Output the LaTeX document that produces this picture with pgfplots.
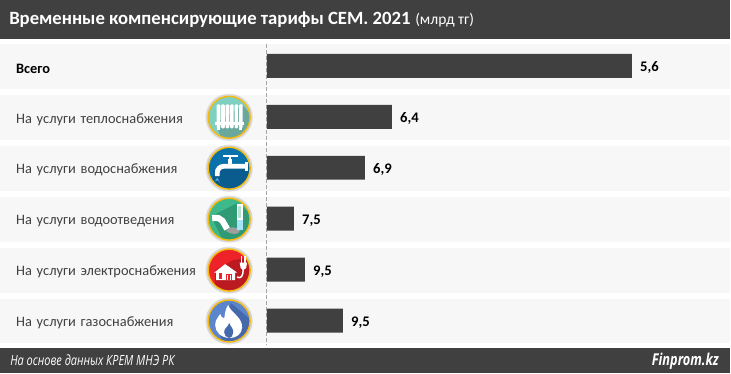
\documentclass[border=0pt]{standalone}
\usepackage{pgfplots}
\pgfplotsset{compat=1.18}
\usepackage{fontspec}
\setmainfont{Carlito}
\newfontfamily\footfont[FakeStretch=0.78]{Open Sans}
\definecolor{dk}{HTML}{404040}
\definecolor{rowbg}{HTML}{F7F7F7}
\definecolor{ring}{HTML}{F5B90F}
\definecolor{ic1}{HTML}{7FD0C0}\definecolor{sh1}{HTML}{6AA89E}
\definecolor{ic2}{HTML}{0A72AB}\definecolor{sh2}{HTML}{0B5C8E}\definecolor{drop}{HTML}{5DB8E8}
\definecolor{ic3}{HTML}{3DB98C}\definecolor{sh3}{HTML}{2F9A74}
\definecolor{ic4}{HTML}{EE2229}\definecolor{sh4}{HTML}{BB1A20}
\definecolor{ic5}{HTML}{5B86CC}\definecolor{sh5}{HTML}{4669AE}
\newcommand{\iconbase}[5]{%
  \begin{scope}[shift={(229.5,#1)}]
    \fill[black,opacity=0.12] (0,0) circle (23.6);
    \fill[#2] (0,0) circle (21);
    \begin{scope}
      \clip (0,0) circle (21);
      \fill[#3] #4;
    \end{scope}
    \draw[ring,line width=1.1pt] (0,0) circle (21);
    #5
  \end{scope}}
\begin{document}
\begin{tikzpicture}[x=0.75pt,y=-0.75pt]
\fill[white] (0,0) rectangle (731,374);
\fill[dk] (0,0) rectangle (731,39);
\foreach \t in {44,95,146,197,248,299}{\fill[rowbg] (0,\t) rectangle (731,\t+45);}
\fill[dk] (0,349) rectangle (731,374);
\draw[gray!70,line width=0.6pt,dash pattern=on 3pt off 1.6pt] (266.5,44) -- (266.5,345);
\node[anchor=west,text=white,inner sep=0pt] at (9,20) {\fontsize{14.05}{16}\selectfont\textbf{Временные компенсирующие тарифы СЕМ. 2021}\hspace{3.5pt}\fontsize{11.6}{16}\selectfont(млрд тг)};
\node[anchor=west,text=white,inner sep=0pt,font=\footfont\itshape\fontsize{10.55}{12}\selectfont] at (10,361) {На основе данных КРЕМ МНЭ РК};
\node[anchor=east,text=white,inner sep=0pt,font=\footfont\itshape\bfseries\fontsize{12.3}{14}\selectfont] at (720,362) {Finprom.kz};
\begin{axis}[
  at={(267,349)}, anchor=south west,
  scale only axis, width=348pt, height=232.5pt,
  xmin=0, xmax=464, ymin=39, ymax=349, y dir=reverse,
  xbar, bar width=18pt, bar shift=0pt,
  axis line style={draw=none},
  xtick=\empty,
  ytick={66,117,168,219,270,321},
  yticklabels={\textcolor{black}{\textbf{Всего}},На услуги теплоснабжения,На услуги водоснабжения,На услуги водоотведения,На услуги электроснабжения,На услуги газоснабжения},
  major tick length=0pt,
  yticklabel style={anchor=east,text width=188.25pt,align=left,inner sep=0pt,yshift=-1.9pt,text=dk,font=\fontsize{10.8}{12}\selectfont},
  clip=false,
  point meta=explicit symbolic,
  nodes near coords,
  every node near coord/.append style={anchor=west,inner sep=0pt,xshift=6pt,yshift=-1.5pt,text=black,font=\bfseries\fontsize{11}{12}\selectfont},
]
\addplot[fill=dk,draw=none] coordinates {
 (365,66) [{5,6}]
 (125,117) [{6,4}]
 (98,168) [{6,9}]
 (27,219) [{7,5}]
 (38,270) [{9,5}]
 (76,321) [{9,5}]
};
\end{axis}
% radiator
\iconbase{117.5}{ic1}{sh1}{(-14,6)--(14,-12)--(30,8)--(30,30)--(-4,30)--cycle}{%
  \foreach \a in {-12.5,-8,-3.5,1,5.5,10}{\fill[white,rounded corners=0.8pt] (\a,-13) rectangle (\a+3.6,11);}
  \fill[white] (-14,5) rectangle (15,8);
  \fill[white] (-12,11) rectangle (-9.5,13);\fill[white] (10,11) rectangle (12.5,13);
}
% tap
\iconbase{168.5}{ic2}{sh2}{(-16,2)--(18,-5)--(30,4)--(30,30)--(-8,30)--(-16,16)--cycle}{%
  \draw[white,line width=3.6pt,line cap=butt,rounded corners=5pt] (-12,8)--(-12,-2)--(16,-2);
  \fill[white] (16,-6.5) rectangle (18.5,3);
  \fill[white] (-1.5,-9) rectangle (2.5,-3);
  \draw[white,line width=1.3pt] (-6,-12)--(9,-12);
  \draw[white,line width=1.5pt] (0.5,-13)--(0.5,-8);
  \fill[drop] (-12,9.5) .. controls (-11.5,12) and (-9,13) .. (-9,15) arc (0:-180:3) .. controls (-15,13) and (-12.5,12) .. cycle;
}
% pipe
\iconbase{219.5}{ic3}{sh3}{(-18,-3)--(8,-16)--(30,0)--(30,30)--(-2,30)--cycle}{%
  \draw[white,line width=4.6pt,line cap=butt] (-17,-1) .. controls (-6,-3) and (-6,4) .. (-2,10);
  \fill[gray!75] (-3,12) .. controls (-1,7) and (7,7) .. (11,11) .. controls (10,16) and (3,16) .. (-3,12) -- cycle;
  \fill[cyan!35!white] (7.5,0) rectangle (13.5,11);
  \fill[white] (7.5,-15) rectangle (13.5,1);
  \fill[ic3!40!white] (9.3,-13) rectangle (11.7,-1);
}
% house with plug
\iconbase{270.5}{ic4}{sh4}{(-14,0)--(4,-10)--(16,-12)--(30,8)--(30,30)--(-6,30)--(-14,14)--cycle}{%
  \fill[white] (-15,2.5)--(-4,-6)--(8,2.5)--(6,2.5)--(6,10)--(-13,10)--(-13,2.5)--cycle;
  \fill[ic4] (-10.5,3) rectangle (-7.5,9); \fill[ic4] (-3,3.5) rectangle (3,10);
  \fill[white] (-1.7,4.5) rectangle (-0.7,10);\fill[white] (0.7,4.5) rectangle (1.7,10);
  \draw[white,line width=1.1pt] (8,7) .. controls (12,9) and (14,6) .. (14,-1);
  \fill[white] (10.5,-7.5) -- (18,-7.5) -- (17,-2) -- (14,0) -- (11.5,-2) -- cycle;
  \fill[white] (11.5,-14) rectangle (13.3,-7);\fill[white] (15.2,-14) rectangle (17,-7);
}
% flame
\iconbase{321.5}{ic5}{sh5}{(-12,8)--(2,-18)--(30,6)--(30,30)--(-2,30)--cycle}{%
  \fill[white] (-1,-16) .. controls (2,-8) and (13,-4) .. (13,6) .. controls (13,13) and (7,17) .. (1,17) .. controls (-8,17) and (-14,11) .. (-14,4) .. controls (-14,-1) and (-11,-4) .. (-9,-7) .. controls (-8,-4) and (-7,-3) .. (-5,-3) .. controls (-4,-7) and (-4,-12) .. (-1,-16) -- cycle;
  \fill[sh5] (0,2) .. controls (1,5) and (5,8) .. (4,12) .. controls (3.5,15) and (2,17) .. (0,17) .. controls (-3,17) and (-5,14) .. (-5,11) .. controls (-5,7) and (-1,6) .. (0,2) -- cycle;
}
\end{tikzpicture}
\end{document}
